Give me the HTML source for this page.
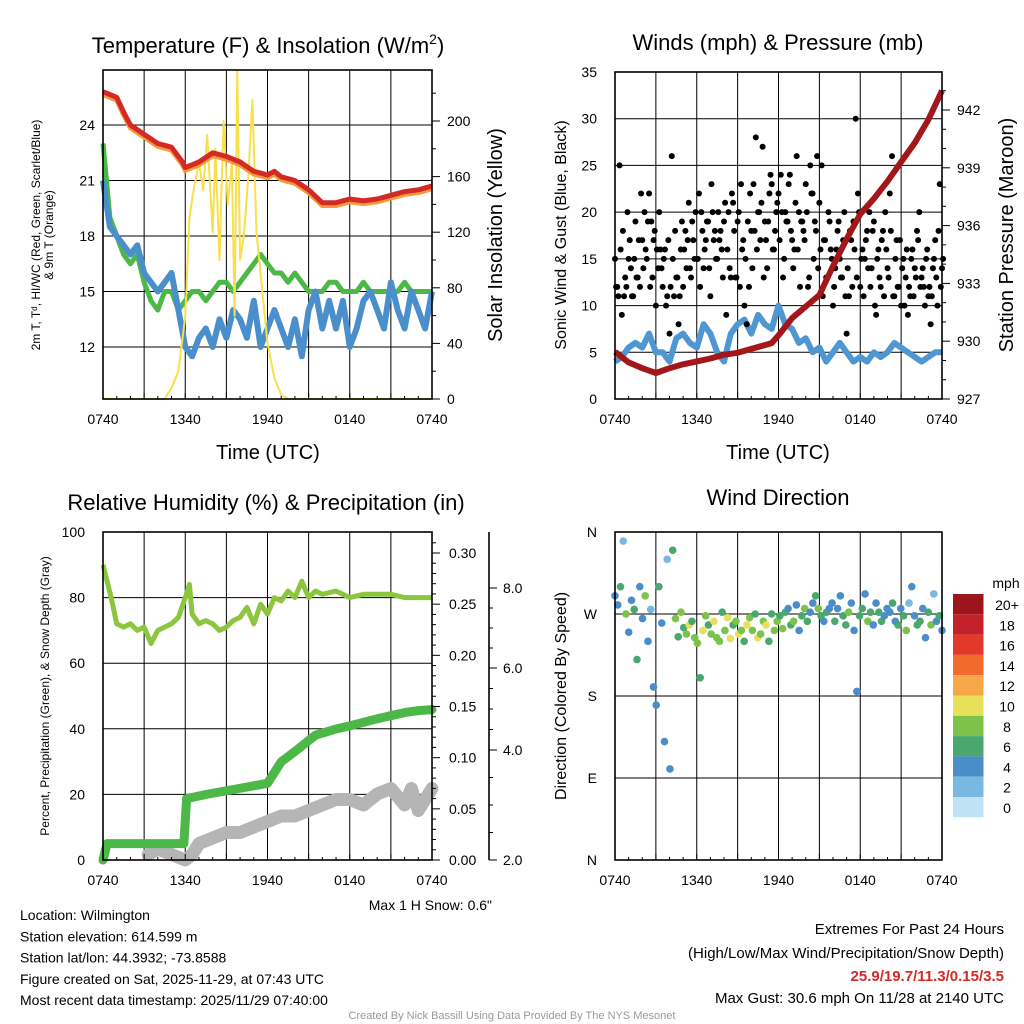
<!DOCTYPE html>
<html><head><meta charset="utf-8"><style>
body{margin:0;background:#fff;}
svg{display:block;font-family:"Liberation Sans",sans-serif;}
</style></head><body>
<svg id="c" width="1024" height="1024" viewBox="0 0 1024 1024"></svg>
<script>
// ---------- DATA ----------
const xTickLabels = ["0740","1340","1940","0140","0740"];
const tempTimes = [0,1,1.5,2,3,4,5,5.8,6,7,8,9,10,11,12,12.5,13,14,15,16,17,18,19,20,21,22,23,24];
const tempRed = [25.8,25.5,24.7,24,23.5,23,22.8,22,21.7,22,22.5,22.3,22,21.5,21.3,21.5,21.2,21,20.5,19.8,19.8,20,19.9,20,20.2,20.4,20.5,20.7];
const tempBlue = [21,18.5,18,17.5,17,17.5,16,15.5,15,15.5,16,14,12,11.5,12.5,13,12,13.5,12.5,14,13.5,12.5,14.5,12,13,14,13,12,13.5,11.5,14,15,13,14.5,13,14.5,12,13,14.5,15,14,13,15.5,14,13,15,14,13,15];
const tempGreen = [23,19,18,17,16.5,17,15.5,14.5,14,15,15,14,14.5,15,15,14.5,15,15.5,15.5,15,15.5,16,16.5,17,16.5,16,16,15.5,16,15.5,15,15,15,15.5,15.5,15,15,15,15.5,15,15,15,15,15,15.5,15,15,15,15];
const solarTimes = [0,4.5,5,5.5,6,6.3,6.6,7,7.3,7.6,8,8.2,8.5,8.8,9.1,9.4,9.6,9.8,10,10.3,10.6,10.9,11.2,11.6,12,12.5,13,13.5,24];
const solarVals = [0,0,8,20,60,130,150,170,150,190,120,180,100,200,140,170,60,236,100,120,160,215,120,80,40,15,3,0,0];
const windVals = [4,4.5,5.5,6,5.5,7,5,5,4,6.5,7,6,5.5,8,7,5,4,7,8,8.5,7,9,8,7.5,10,8,7.5,6,6.5,5,5.5,4,5,6,5,4,4.5,4,5,4.5,5,6,5.5,5,4.5,4,4.5,5,5];
const gustVals = [15,12,25,9,11,12,15,14,11,19,13,12,17,20,15,22,19,17,10,14,16,12,16,11,
7,26,11,13,8,16,12,18,17,14,19,15,15,22,20,14,17,19,11,20,18,15,17,16,
19,9,20,13,21,13,19,12,16,10,8,12,18,23,28,20,17,27,19,14,22,23,16,20,
22,24,13,20,19,24,17,16,26,20,19,18,23,12,25,22,19,26,21,25,17,13,20,16,
10,14,18,15,13,20,7,11,17,19,30,22,12,16,15,18,20,14,19,9,16,12,18,20,
14,22,26,11,17,12,10,15,13,9,11,16,14,18,20,13,12,15,11,8,14,17,10,23,14];
const gustVals2 = [12,11,16,18,13,20,17,11,15,13,17,22,14,16,19,12,13,18,16,20,14,15,10,17,
12,15,18,13,11,19,16,14,21,13,17,20,15,12,18,16,19,14,23,17,15,20,18,13,
21,16,14,22,18,13,20,23,17,15,19,22,14,18,16,20,21,13,17,19,24,16,18,21,
17,20,15,19,23,18,14,21,16,12,19,17,20,13,22,15,18,14,16,11,17,13,19,15,
12,16,19,13,17,11,14,18,12,16,13,20,15,11,17,14,12,18,10,15,13,17,11,16,
13,18,11,15,12,17,14,10,16,12,15,11,13,17,12,14,10,16,12,11,15,13,18,12,15];
const presTimes = [0,1,2,3,4,5,6,7,8,9,10,11,11.5,12,13,14,15,16,17,18,19,20,21,22,23,24];
const presVals = [929.45,928.9,928.6,928.35,928.6,928.8,928.95,929.1,929.3,929.4,929.6,929.8,929.9,930.3,931.2,931.8,932.4,933.9,935.3,936.6,937.4,938.3,939.3,940.3,941.5,943];
const rhTimes = [0,0.3,0.6,1,1.5,2,2.5,3,3.5,4,4.5,5,5.5,6,6.3,6.5,7,7.5,8,8.5,9,9.5,10,10.5,11,11.5,12,12.5,13,13.5,14,14.5,15,15.5,16,17,18,19,20,21,22,23,24];
const rhVals = [90,85,80,72,71,72,70,71,66,70,71,72,74,80,84,75,72,73,72,70,71,73,74,77,72,78,75,80,79,82,80,85,80,82,81,82,80,81,81,81,80,80,80];
const precipTimes = [0,0.3,5.9,6.1,7.5,12,13,14,15.5,17,18,20,21,22,23,24];
const precipVals = [0,0.016,0.016,0.06,0.064,0.075,0.096,0.106,0.122,0.128,0.131,0.138,0.141,0.144,0.146,0.147];
const snowTimes = [3.3,4,5,6,6.5,7,8,9,10,11,12,13,14,15,16,17,18,19,20,21,22,22.5,23,24];
const snowVals = [2.1,2.2,2.1,2.0,2.1,2.3,2.4,2.5,2.5,2.6,2.7,2.8,2.8,2.9,3.0,3.1,3.1,3.0,3.2,3.3,3.0,3.3,2.9,3.3];
const dirVals = [290,280,300,350,270,250,285,275,220,300,265,290,240,275,190,170,300,260,130,330,
100,340,265,245,272,255,248,258,262,244,238,200,252,268,258,248,262,244,240,272,
252,266,243,258,262,248,252,240,258,266,252,270,244,248,262,258,240,270,252,262,
268,254,272,276,258,262,280,252,268,276,262,272,282,290,276,268,262,272,276,282,
262,276,290,268,258,272,282,252,185,268,276,292,262,272,258,282,272,262,268,276,
272,282,262,258,276,268,252,282,300,268,258,262,276,244,272,258,292,262,268,252];
const spdVals = [4,3,5,2,7,4,3,5,6,4,3,7,4,2,4,3,5,4,3,2,
4,5,7,6,8,6,7,9,6,8,7,5,9,8,6,7,10,7,8,6,
7,9,10,6,8,9,7,6,10,8,7,6,9,8,7,10,6,5,7,8,
6,7,5,4,6,7,3,4,6,7,5,4,3,6,7,5,4,6,3,4,
5,4,3,6,5,7,4,3,3,5,6,4,7,5,4,3,6,5,4,3,
4,5,3,6,4,5,7,2,3,4,5,6,3,4,5,7,2,4,5,3];
const cbLabels = ["20+","18","16","14","12","10","8","6","4","2","0"];
const cbColors = ["#9b161c","#c4222a","#e2392b","#f26a2d","#f8a748","#e6e05a","#7dc24a","#4aa86e","#4a8ec9","#79b8e0","#bfe3f5"];

// ---------- HELPERS ----------
const S = document.getElementById('c');
const NS = "http://www.w3.org/2000/svg";
function mk(tag, attrs, parent){const e=document.createElementNS(NS,tag);for(const k in attrs)e.setAttribute(k,attrs[k]);(parent||S).appendChild(e);return e;}
function txt(x,y,s,size,anchor,extra){const e=mk('text',Object.assign({x:x,y:y,'font-size':size,'text-anchor':anchor||'middle',fill:'#000'},extra||{}));e.textContent=s;return e;}
function lin(d0,d1,r0,r1){return v=>r0+(v-d0)*(r1-r0)/(d1-d0);}
function pathD(ts,vs,fx,fy){return ts.map((t,i)=>(i?'L':'M')+fx(t).toFixed(1)+','+fy(vs[i]).toFixed(1)).join('');}
function evenT(n){const a=[];for(let i=0;i<n;i++)a.push(i*24/(n-1));return a;}
function grid(x0,x1,y0,y1,fx,hy){
  const g=mk('g',{});
  for(let h=3;h<24;h+=3){mk('line',{x1:fx(h),x2:fx(h),y1:y0,y2:y1,stroke:'#000','stroke-width':1},g);}
  hy.forEach(y=>mk('line',{x1:x0,x2:x1,y1:y,y2:y,stroke:'#000','stroke-width':1},g));
  return g;
}
function frame(x0,x1,y0,y1){return mk('rect',{x:x0,y:y0,width:x1-x0,height:y1-y0,fill:'none',stroke:'#000','stroke-width':1.6});}
function xTicks(fx,yb){
  xTickLabels.forEach((l,i)=>{const x=fx(i*6);const e=txt(x,yb+25,l,14);
    
    });
  for(let h=0;h<=24;h++){mk('line',{x1:fx(h),x2:fx(h),y1:yb,y2:yb-(h%3?3:6),stroke:'#000','stroke-width':1});}
}

// ---------- PANEL 1 ----------
{
const X0=103,X1=432,Y0=70,Y1=399;
const fx=lin(0,24,X0,X1), fy=lin(12,24,347,125), fs=lin(0,200,399,121);
const g=grid(X0,X1,Y0,Y1,fx,[12,15,18,21,24].map(fy));


const tb=evenT(tempBlue.length);
let p;
p=mk('path',{d:pathD(tb,tempGreen,fx,fy),fill:'none',stroke:'#4cb848','stroke-width':5,'stroke-linejoin':'round'});


p=mk('path',{d:pathD(tb,tempBlue,fx,fy),fill:'none',stroke:'#4a8fcc','stroke-width':6,'stroke-linejoin':'round'});


p=mk('path',{d:pathD(solarTimes,solarVals,fx,fs),fill:'none',stroke:'#f8e04a','stroke-width':2,'stroke-linejoin':'round'});


p=mk('path',{d:pathD(tempTimes,tempRed.map(v=>v-0.15),fx,fy),fill:'none',stroke:'#f49a3a','stroke-width':5});


p=mk('path',{d:pathD(tempTimes,tempRed,fx,fy),fill:'none',stroke:'#d42a26','stroke-width':5,'stroke-linejoin':'round'});


frame(X0,X1,Y0,Y1);
[12,15,18,21,24].forEach(v=>{const e=txt(X0-8,fy(v)+5,String(v),14,'end');
 
 });
for(let v=0;v<=220;v+=20){mk('line',{x1:X1,x2:X1+(v%40?4:8),y1:fs(v),y2:fs(v),stroke:'#000'});}
[0,40,80,120,160,200].forEach(v=>{const e=txt(X1+15,fs(v)+5,String(v),14,'start');
 
 });
xTicks(fx,Y1);
let t=txt(268,53,'Temperature (F) & Insolation (W/m',22);
const sp=mk('tspan',{'font-size':14,dy:-9},t);sp.textContent='2';
const sp2=mk('tspan',{dy:9},t);sp2.textContent=')';


t=txt(268,459,'Time (UTC)',20);


t=txt(502,235,'Solar Insolation (Yellow)',20,'middle',{transform:'rotate(-90 502 235)'});


const ag=mk('g',{transform:'translate(0 235) rotate(-90)'});


['2m T, T\u1d48, HI/WC (Red, Green, Scarlet/Blue)','& 9m T (Orange)'].forEach((s,i)=>{const e=mk('text',{x:0,y:40+i*13,'font-size':12,'text-anchor':'middle'},ag);e.textContent=s;});
}

// ---------- PANEL 2 ----------
{
const X0=615,X1=942,Y0=72,Y1=399;
const fx=lin(0,24,X0,X1), fy=lin(0,35,Y1,Y0), fp=lin(927,942,399,110);
const g=grid(X0,X1,Y0,Y1,fx,[5,10,15,20,25,30].map(fy));


let p=mk('path',{d:pathD(evenT(windVals.length),windVals,fx,fy),fill:'none',stroke:'#4f97d3','stroke-width':6,'stroke-linejoin':'round'});


const gt=evenT(gustVals.length);
gustVals.forEach((v,i)=>{const c=mk('circle',{cx:fx(gt[i]),cy:fy(v),r:3,fill:'#000'});
 
 });
const gt2=evenT(gustVals2.length);
gustVals2.forEach((v,i)=>{const c=mk('circle',{cx:fx(gt2[i])+1.1,cy:fy(v),r:3,fill:'#000'});
 
 });
p=mk('path',{d:pathD(presTimes,presVals,fx,fp),fill:'none',stroke:'#a3161a','stroke-width':6,'stroke-linejoin':'round'});


frame(X0,X1,Y0,Y1);
for(let v=0;v<=35;v+=5){const e=txt(X0-18,fy(v)+5,String(v),14,'end');
 
 }
for(let v=927;v<=943;v++){mk('line',{x1:X1,x2:X1+((v-927)%3?4:8),y1:fp(v),y2:fp(v),stroke:'#000'});}
[927,930,933,936,939,942].forEach(v=>{const e=txt(X1+15,fp(v)+5,String(v),14,'start');
 
 });
xTicks(fx,Y1);
let t=txt(778,50,'Winds (mph) & Pressure (mb)',22);


t=txt(778,459,'Time (UTC)',20);


t=txt(566,235,'Sonic Wind & Gust (Blue, Black)',16,'middle',{transform:'rotate(-90 566 235)'});


t=txt(1013,235,'Station Pressure (Maroon)',20,'middle',{transform:'rotate(-90 1013 235)'});


}

// ---------- PANEL 3 ----------
{
const X0=103,X1=432,Y0=532,Y1=860;
const fx=lin(0,24,X0,X1), fy=lin(0,100,Y1,Y0), fpr=lin(0,0.3,860,553), fsn=lin(2,4,860,750);
const g=grid(X0,X1,Y0,Y1,fx,[20,40,60,80].map(fy));


let p=mk('path',{d:pathD(snowTimes,snowVals,fx,fsn),fill:'none',stroke:'#b5b5b5','stroke-width':13,'stroke-linejoin':'round','stroke-linecap':'round'});


p=mk('path',{d:pathD(precipTimes,precipVals,fx,fpr),fill:'none',stroke:'#4cb848','stroke-width':9,'stroke-linejoin':'round','stroke-linecap':'round'});


p=mk('path',{d:pathD(rhTimes,rhVals,fx,fy),fill:'none',stroke:'#8cc63f','stroke-width':5,'stroke-linejoin':'round'});


frame(X0,X1,Y0,Y1);
for(let v=0;v<=100;v+=20){const e=txt(X0-18,fy(v)+5,String(v),14,'end');
 
 }
for(let v=0;v<=0.32;v+=0.01){const k=Math.round(v*100);mk('line',{x1:X1,x2:X1+(k%5?4:8),y1:fpr(v),y2:fpr(v),stroke:'#000'});}
[0,0.05,0.1,0.15,0.2,0.25,0.3].forEach(v=>{const e=txt(X1+17,fpr(v)+5,v.toFixed(2),14,'start');
 
 });
mk('line',{x1:489,x2:489,y1:532,y2:860,stroke:'#000','stroke-width':1.6});
const snowTickY=[860,750,668,588];
[2,4,6,8].forEach((v,i)=>{mk('line',{x1:489,x2:497,y1:snowTickY[i],y2:snowTickY[i],stroke:'#000'});
 if(i<3){for(let k=1;k<4;k++){const yy=snowTickY[i]+(snowTickY[i+1]-snowTickY[i])*k/4;mk('line',{x1:489,x2:493,y1:yy,y2:yy,stroke:'#000'});}}
 const e=txt(503,snowTickY[i]+5,v.toFixed(1),14,'start');
 
 });
xTicks(fx,Y1);
let t=txt(266,510,'Relative Humidity (%) & Precipitation (in)',22);


t=txt(49,696,'Percent, Precipitation (Green), & Snow Depth (Gray)',12,'middle',{transform:'rotate(-90 49 696)'});


t=txt(492,910,'Max 1 H Snow: 0.6"',14,'end');


}

// ---------- PANEL 4 ----------
{
const X0=615,X1=942,Y0=532,Y1=860;
const fx=lin(0,24,X0,X1), fy=lin(0,360,Y1,Y0);
const g=grid(X0,X1,Y0,Y1,fx,[90,180,270].map(fy));


const dt=evenT(dirVals.length);
dirVals.forEach((d,i)=>{const s=spdVals[i];let bin=Math.min(10,Math.round(s/2));const c=mk('circle',{cx:fx(dt[i]),cy:fy(d),r:3.8,fill:cbColors[10-bin]});
 
 });
frame(X0,X1,Y0,Y1);
['N','E','S','W','N'].forEach((l,i)=>{const e=txt(X0-18,fy(i*90)+5,l,14,'end');
 
 });
xTicks(fx,Y1);
let t=txt(778,505,'Wind Direction',22);


t=txt(566,696,'Direction (Colored By Speed)',16,'middle',{transform:'rotate(-90 566 696)'});


t=txt(1006,588,'mph',14);


cbColors.forEach((c,i)=>{const r=mk('rect',{x:953,y:594+i*20.3,width:30.5,height:20.3,fill:c});
 
 
 const e=txt(1007,594+i*20.3+16,cbLabels[i],14);
 
 });
}

// ---------- FOOTER TEXT ----------
{
const L=["Location: Wilmington","Station elevation: 614.599 m","Station lat/lon: 44.3932; -73.8588","Figure created on Sat, 2025-11-29, at 07:43 UTC","Most recent data timestamp: 2025/11/29 07:40:00"];
L.forEach((s,i)=>{const e=txt(20,920+i*21.3,s,14,'start');
 
 });
let e=txt(1004,934,'Extremes For Past 24 Hours',15,'end');


e=txt(1004,958,'(High/Low/Max Wind/Precipitation/Snow Depth)',15,'end');


e=txt(1004,981,'25.9/19.7/11.3/0.15/3.5',15,'end',{fill:'#d42a26','font-weight':'bold'});


e=txt(1004,1003,'Max Gust: 30.6 mph On 11/28 at 2140 UTC',15,'end');


e=txt(512,1019,'Created By Nick Bassill Using Data Provided By The NYS Mesonet',11,'middle',{fill:'#999'});


}
</script>
</body></html>
